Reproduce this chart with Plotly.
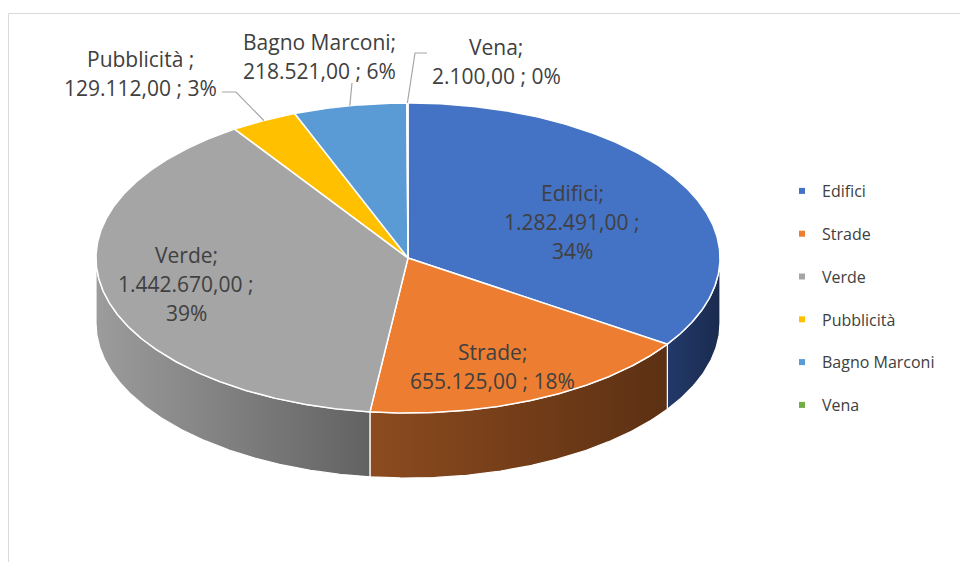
import numpy as np
import plotly.graph_objects as go

# ---------------- data ----------------
categories = ["Edifici", "Strade", "Verde", "Pubblicità", "Bagno Marconi", "Vena"]
values = [1282491.00, 655125.00, 1442670.00, 129112.00, 218521.00, 2100.00]
top_colors = ["#4472C4", "#ED7D31", "#A5A5A5", "#FFC000", "#5B9BD5", "#70AD47"]
side_grad = [
    ["#22396a", "#1a2b4e"],
    ["#8c4b1f", "#5c3013"],
    ["#9c9c9c", "#626262"],
    ["#b38600", "#8a6700"],
    ["#3f7bb3", "#2e5f8a"],
    ["#4f8a30", "#3b6a22"],
]
# label line templates ({v}=value, {p}=percent)
label_tpl = [
    ["Edifici;", "{v} ;", "{p}%"],
    ["Strade;", "{v} ; {p}%"],
    ["Verde;", "{v} ;", "{p}%"],
    ["Pubblicità ;", "{v} ; {p}%"],
    ["Bagno Marconi;", "{v} ; {p}%"],
    ["Vena;", "{v} ; {p}%"],
]
# label centres (pixel space) and leader-line anchor near label (None = inside)
label_pos = [(572, 193), (492, 352), (186, 255), (140, 59), (319, 42), (496, 47)]
leader_start = [None, None, None, [(222, 92), (236, 92)], [(352, 83)], [(427, 53), (415, 53)]]

# ---------------- geometry ----------------
W, H = 960, 562
cx, cy = 408, 258        # centre of top face
a, b = 312, 155          # ellipse semi-axes
depth = 65               # thickness
LINE_H = 29

total = sum(values)
fracs = [v / total for v in values]
cum = np.concatenate([[0], np.cumsum(fracs)])
theta0 = cum[:-1] * 360.0
theta1 = cum[1:] * 360.0


def ex(t):
    return cx + a * np.sin(np.radians(t))


def ey(t, off=0.0):
    return cy - b * np.cos(np.radians(t)) + off


def it_fmt(v):
    s = f"{v:,.2f}"
    return s.replace(",", "X").replace(".", ",").replace("X", ".")


fig = go.Figure()

# side walls (front half: 90..270 deg)
for i, cat in enumerate(categories):
    lo, hi = max(theta0[i], 90.0), min(theta1[i], 270.0)
    if hi <= lo:
        continue
    t = np.linspace(lo, hi, max(3, int(hi - lo) * 2))
    xs = list(ex(t)) + list(ex(t[::-1])) + [ex(t[0])]
    ys = list(ey(t)) + list(ey(t[::-1], depth)) + [ey(t[0])]
    fig.add_trace(go.Scatter(
        x=xs, y=ys, mode="lines", fill="toself",
        fillgradient=dict(type="horizontal",
                          colorscale=[[0, side_grad[i][0]], [1, side_grad[i][1]]]),
        line=dict(color="white", width=1.2),
        hoverinfo="skip", showlegend=False))

# top faces
for i, cat in enumerate(categories):
    t0, t1 = theta0[i], theta1[i]
    t = np.linspace(t0, t1, max(3, int((t1 - t0) * 2)))
    xs = [cx] + list(ex(t)) + [cx]
    ys = [cy] + list(ey(t)) + [cy]
    fig.add_trace(go.Scatter(
        x=xs, y=ys, mode="lines", fill="toself", fillcolor=top_colors[i],
        line=dict(color="white", width=1.5),
        hoverinfo="skip", showlegend=False))

# legend entries
for i, cat in enumerate(categories):
    fig.add_trace(go.Scatter(
        x=[None], y=[None], mode="markers", name=cat, legendgroup=cat,
        marker=dict(symbol="square", size=6, color=top_colors[i]),
        showlegend=True))

annotations = []
shapes = []
for i, cat in enumerate(categories):
    pct = round(fracs[i] * 100)
    lx, ly = label_pos[i]
    for k, tpl in enumerate(label_tpl[i]):
        annotations.append(dict(
            x=lx, y=ly + k * LINE_H, xref="x", yref="y",
            text=tpl.format(v=it_fmt(values[i]), p=pct),
            showarrow=False, xanchor="center", yanchor="middle",
            font=dict(family="Open Sans", size=21, color="#404040")))
    if leader_start[i] is not None:
        tm = (theta0[i] + theta1[i]) / 2
        pts = leader_start[i] + [(ex(tm), ey(tm))]
        path = "M " + " L ".join(f"{px:.1f},{py:.1f}" for px, py in pts)
        shapes.append(dict(type="path", path=path, xref="x", yref="y",
                           line=dict(color="#A6A6A6", width=1.2)))

# chart-area border (partially cut off in the original)
shapes.append(dict(type="rect", xref="x", yref="y", x0=8.5, y0=13.5, x1=975, y1=580,
                   line=dict(color="#D9D9D9", width=1), layer="below"))

fig.update_layout(
    width=W, height=H,
    margin=dict(l=0, r=0, t=0, b=0),
    paper_bgcolor="white", plot_bgcolor="white",
    xaxis=dict(range=[0, W], visible=False, fixedrange=True),
    yaxis=dict(range=[H, 0], visible=False, fixedrange=True),
    showlegend=True,
    legend=dict(x=782 / W, y=1 - 174 / H, xanchor="left", yanchor="top",
                font=dict(family="Open Sans", size=16, color="#404040"),
                tracegroupgap=19, itemwidth=30, bgcolor="rgba(0,0,0,0)"),
    annotations=annotations,
    shapes=shapes,
)

fig.write_html(
    "out.html",
    config={"displayModeBar": False},
    post_script="document.body.style.margin='0';document.body.style.overflow='hidden';",
)
